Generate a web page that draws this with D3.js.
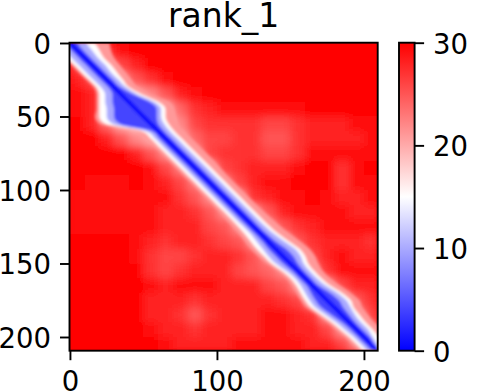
<!DOCTYPE html>
<html>
<head>
<meta charset="utf-8">
<script src="https://cdn.jsdelivr.net/npm/d3@7"></script>
<style>
  html, body { margin: 0; padding: 0; background: #fff; }
  text { font-family: "DejaVu Sans", sans-serif; fill: #000; }
</style>
</head>
<body>
<svg id="chart" width="484" height="392" style="display:block"></svg>
<script>
const title = 'rank_1';
const xTicks = [0, 100, 200];
const yTicks = [0, 50, 100, 150, 200];
const barTicks = [0, 10, 20, 30];

// off diagonal error, read in 10 residue blocks (rows top to bottom)
const blockStep = 10;
const blocks = [
  [28,24,27,29,30,30,30,30,30,30,30,30,30,30,30,30,30,30,30,30,30],
  [26,24,24,26,28,30,30,30,30,30,30,30,30,30,30,30,30,30,30,30,30],
  [28,26,24,22,25,27,29,30,30,30,30,30,30,30,30,30,30,30,30,30,30],
  [29,28,24,22,20,22,25,28,29,30,30,30,30,30,30,30,30,30,30,30,30],
  [29,28,24,20,18,18,20,24,27,28,29,29,29,29,29,29,30,30,30,30,30],
  [30,28,24,20,18,18,18,22,26,27,27,27,27,26,26,27,28,28,28,29,29],
  [30,30,28,25,22,20,18,20,24,26,26,27,27,25,25,27,28,28,28,28,29],
  [30,30,30,30,28,25,22,20,22,26,27,27,27,26,26,27,29,29,29,29,29],
  [30,30,30,30,30,29,26,23,20,22,26,27,28,28,28,29,30,30,27,29,30],
  [30,29,29,29,30,29,28,26,23,20,23,26,28,29,29,30,30,30,27,29,29],
  [29,29,29,29,29,29,29,27,25,22,20,22,27,28,29,29,30,29,28,28,29],
  [29,29,29,29,29,29,28,28,27,25,22,20,22,25,28,29,29,29,29,28,28],
  [29,29,29,29,29,29,28,28,28,26,25,22,20,22,25,27,28,29,29,29,29],
  [30,30,30,30,29,28,27,28,28,27,26,25,22,20,21,25,27,28,28,28,27],
  [30,30,30,30,29,27,26,26,27,28,28,27,25,22,20,22,26,28,29,28,28],
  [30,30,30,30,30,27,26,27,28,28,28,26,25,24,22,20,23,27,29,29,29],
  [30,30,30,30,30,29,28,29,29,29,28,28,28,26,25,22,20,22,26,28,28],
  [30,30,30,30,30,28,28,28,27,28,28,28,28,28,27,26,22,20,21,25,27],
  [30,30,30,30,30,28,28,27,25,27,28,28,28,29,29,28,27,22,19,22,26],
  [30,30,30,30,30,29,28,28,27,28,28,28,28,29,29,28,28,26,22,20,23],
  [30,30,30,30,30,30,29,28,28,28,28,29,29,29,29,29,28,28,26,22,20]
];

// diagonal band: residues from the diagonal to each error contour, left (lo) and right (hi)
const bandPos = [0,5,10,15,20,25,30,35,40,45,50,55,60,65,70,80,90,100,110,120,130,135,140,145,150,155,160,165,170,175,180,185,190,195,200,205,209];
const pinkLo  = [13,14,14,14,14,14,14,17,22,27,33,35,15,13,13,13,13,13,13,14,15,16,17,17,16,14,13,14,16,18,19,17,15,14,13,13,13];
const pinkHi  = [27,23,20,19,18,17,16,20,27,26,22,18,17,18,18,18,17,17,17,18,20,22,23,22,19,17,17,19,21,22,19,18,17,17,13,9,3];
const whiteLo = [11,12,12,12,12,12,12,15,20,25,30,31,11,10,10,10,10,10,10,10,11,12,13,13,13,11,10,11,13,15,16,14,12,11,10,10,10];
const whiteHi = [17,15,13,13,12,11,10,14,20,20,15,12,11,11,11,11,11,11,11,11,12,14,16,15,12,11,11,12,15,16,13,12,11,11,10,7,2];
const lightLo = [9,9,9,9,9,9,9,11,16,20,25,26,8,7,7,7,7,7,7,7,7,8,9,10,10,8,7,8,10,12,13,11,9,8,7,7,7];
const lightHi = [11,10,9,9,8,8,8,11,17,17,12,9,8,8,8,8,8,8,8,8,9,11,13,12,9,8,8,9,12,13,11,9,8,8,6,4,1];
const midLo   = [4,4,4,4,4,4,4,6,11,15,20,21,4,4,4,4,4,4,4,4,4,4,5,5,5,4,4,4,6,8,9,7,5,4,4,4,4];
const midHi   = [5,4,4,4,4,4,4,8,14,14,9,5,4,4,4,4,4,4,4,4,4,5,7,7,5,4,4,4,7,8,6,5,4,4,4,2,1];
const coreLo  = bandPos.map(() => 2);
const coreHi  = bandPos.map(() => 2);

const contours = [
  {value: 21, lo: pinkLo, hi: pinkHi},
  {value: 15, lo: whiteLo, hi: whiteHi},
  {value: 10, lo: lightLo, hi: lightHi},
  {value: 4, lo: midLo, hi: midHi},
  {value: 0, lo: coreLo, hi: coreHi}
];

const svg = d3.select('#chart');

const plotLeft = 69.5, plotRight = 377.7, plotTop = 42.7, plotBottom = 350.7;
const pxPerRes = 1.47;

const x = d3.scaleLinear().domain([-0.3, (plotRight - plotLeft) / pxPerRes - 0.3]).range([plotLeft, plotRight]);
const y = d3.scaleLinear().domain([-0.2, (plotBottom - plotTop) / pxPerRes - 0.2]).range([plotTop, plotBottom]);
const color = d3.scaleLinear().domain([0, 15, 30]).range(['#0000ff', '#ffffff', '#ff0000']);

const defs = svg.append('defs');
defs.append('clipPath').attr('id', 'plot')
  .append('rect')
  .attr('x', plotLeft).attr('y', plotTop)
  .attr('width', plotRight - plotLeft).attr('height', plotBottom - plotTop);

const addBlur = (id, dev) => defs.append('filter')
  .attr('id', id)
  .attr('filterUnits', 'userSpaceOnUse')
  .attr('x', 0).attr('y', 0).attr('width', 484).attr('height', 392)
  .append('feGaussianBlur').attr('stdDeviation', dev);
addBlur('soft', 4);
addBlur('edge', 1.7);

const heat = svg.append('g').attr('clip-path', 'url(#plot)');
heat.append('rect')
  .attr('x', plotLeft).attr('y', plotTop)
  .attr('width', plotRight - plotLeft).attr('height', plotBottom - plotTop)
  .attr('fill', color(30));

heat.append('g').attr('filter', 'url(#soft)')
  .selectAll('g')
  .data(blocks)
  .enter()
  .append('g')
  .selectAll('rect')
  .data((row, i) => row.map((v, j) => ({i, j, v})))
  .enter()
  .append('rect')
  .attr('x', d => x(d.j * blockStep))
  .attr('y', d => y(d.i * blockStep))
  .attr('width', x(blockStep) - x(0) + 0.5)
  .attr('height', y(blockStep) - y(0) + 0.5)
  .attr('fill', d => color(d.v));

const band = heat.append('g').attr('filter', 'url(#edge)');
contours.forEach(c => {
  const area = d3.area()
    .curve(d3.curveMonotoneY)
    .y((p) => y(p))
    .x0((p, i) => x(p - c.lo[i]))
    .x1((p, i) => x(p + c.hi[i]));
  band.append('path')
    .attr('d', area(bandPos))
    .attr('fill', color(c.value));
});

const styleAxis = (g) => {
  g.selectAll('text').style('font-size', '27.5px');
  g.selectAll('line').attr('stroke', '#000').attr('stroke-width', 1.9);
  g.select('.domain').remove();
};

svg.append('g')
  .attr('transform', `translate(0,${plotBottom})`)
  .call(d3.axisBottom(x).tickValues(xTicks).tickSize(9.5).tickPadding(11.7))
  .call(styleAxis);

svg.append('g')
  .attr('transform', `translate(${plotLeft},0)`)
  .call(d3.axisLeft(y).tickValues(yTicks).tickSize(9.5).tickPadding(9))
  .call(styleAxis)
  .call(g => g.selectAll('text').attr('dy', '0.38em'));

svg.append('rect')
  .attr('x', plotLeft).attr('y', plotTop)
  .attr('width', plotRight - plotLeft).attr('height', plotBottom - plotTop)
  .attr('fill', 'none').attr('stroke', '#000').attr('stroke-width', 1.9);

svg.append('text')
  .attr('x', (plotLeft + plotRight) / 2)
  .attr('y', 27)
  .attr('text-anchor', 'middle')
  .style('font-size', '33px')
  .text(title);

// colorbar
const barLeft = 399, barRight = 414.6;
const barScale = d3.scaleLinear().domain([0, 30]).range([plotBottom, plotTop]);

const grad = defs.append('linearGradient')
  .attr('id', 'bwr')
  .attr('x1', 0).attr('y1', 1).attr('x2', 0).attr('y2', 0);
color.domain().forEach(v => {
  grad.append('stop')
    .attr('offset', v / 30)
    .attr('stop-color', color(v));
});

svg.append('rect')
  .attr('x', barLeft).attr('y', plotTop)
  .attr('width', barRight - barLeft).attr('height', plotBottom - plotTop)
  .attr('fill', 'url(#bwr)')
  .attr('stroke', '#000').attr('stroke-width', 1.9);

svg.append('g')
  .attr('transform', `translate(${barRight},0)`)
  .call(d3.axisRight(barScale).tickValues(barTicks).tickSize(9.5).tickPadding(9))
  .call(styleAxis)
  .call(g => g.selectAll('text').attr('dy', '0.38em'));
</script>
</body>
</html>
